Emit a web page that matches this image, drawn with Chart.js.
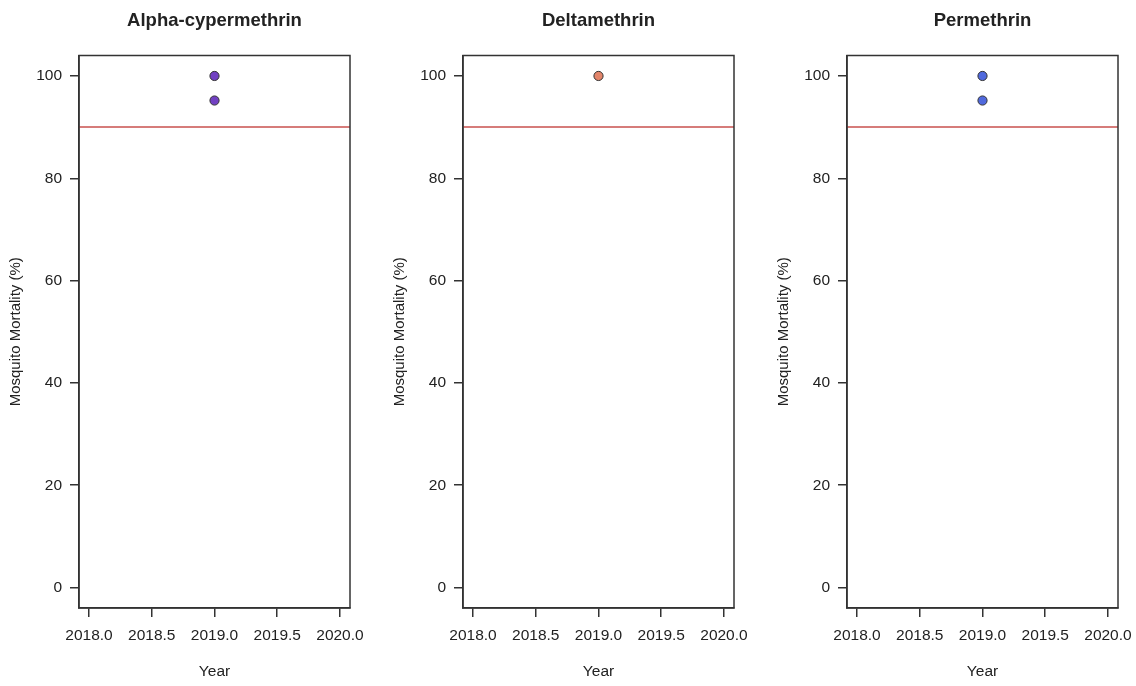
<!DOCTYPE html>
<html>
<head>
<meta charset="utf-8">
<script src="https://cdn.jsdelivr.net/npm/chart.js@4.4.1/dist/chart.umd.min.js"></script>
<style>
  html, body { margin: 0; padding: 0; background: #ffffff; }
  #wrap { position: relative; width: 1136px; height: 686px; overflow: hidden; }
  .panel { position: absolute; top: 0; width: 384px; height: 686px; }
</style>
</head>
<body>
<div id="wrap">
  <div class="panel" style="left:0px"><canvas id="c0"></canvas></div>
  <div class="panel" style="left:384px"><canvas id="c1"></canvas></div>
  <div class="panel" style="left:768px"><canvas id="c2"></canvas></div>
</div>
<script>
// Insecticide susceptibility: mosquito mortality (%) by year
const panelTitles = ['Alpha-cypermethrin', 'Deltamethrin', 'Permethrin'];

const alphaYears = [2019, 2019];
const alphaMortality = [100, 95.2];

const deltaYears = [2019];
const deltaMortality = [100];

const permYears = [2019, 2019];
const permMortality = [100, 95.2];

const xTickValues = [2018, 2018.5, 2019, 2019.5, 2020];
const yTickValues = [0, 20, 40, 60, 80, 100];
const thresholdValue = 90;

const xMin = 2017.92, xMax = 2020.08;
const yMin = -4, yMax = 104;

const pointColors = ['#7140C2', '#E3856A', '#5069DD'];
const seriesYears = [alphaYears, deltaYears, permYears];
const seriesValues = [alphaMortality, deltaMortality, permMortality];

const FONT = "'Liberation Sans', Arial, sans-serif";
const INK = '#222222';
const BASE = 15.5;

// draws the panel title and closes the plot box on all four sides
const framePlugin = {
  id: 'frame',
  afterDraw(chart, args, opts) {
    const {ctx, chartArea: a} = chart;
    ctx.save();
    ctx.strokeStyle = '#333333';
    ctx.lineWidth = 1.5;
    ctx.strokeRect(a.left, a.top, a.right - a.left, a.bottom - a.top);
    ctx.fillStyle = INK;
    ctx.font = 'bold 18.5px ' + FONT;
    ctx.textAlign = 'center';
    ctx.textBaseline = 'middle';
    ctx.fillText(opts.text, (a.left + a.right) / 2, 21);
    ctx.restore();
  }
};

function makePanel(i) {
  const pts = seriesYears[i].map((yr, k) => ({x: yr, y: seriesValues[i][k]}));
  return new Chart(document.getElementById('c' + i), {
    type: 'scatter',
    data: {
      datasets: [
        {
          type: 'line',
          data: [{x: xMin, y: thresholdValue}, {x: xMax, y: thresholdValue}],
          borderColor: '#C8504E',
          borderWidth: 1.5,
          pointRadius: 0,
          order: 2
        },
        {
          data: pts,
          backgroundColor: pointColors[i],
          borderColor: '#333333',
          borderWidth: 1,
          pointRadius: 4.6,
          order: 1
        }
      ]
    },
    plugins: [framePlugin],
    options: {
      responsive: false,
      animation: false,
      devicePixelRatio: 1,
      layout: { padding: { left: 0, right: 34, top: 55.5, bottom: 0 } },
      plugins: {
        legend: { display: false },
        tooltip: { enabled: false },
        frame: { text: panelTitles[i] }
      },
      scales: {
        x: {
          type: 'linear',
          min: xMin,
          max: xMax,
          afterBuildTicks: s => { s.ticks = xTickValues.map(v => ({value: v})); },
          afterFit: s => { s.height = 686 - 608; },
          grid: { drawOnChartArea: false, drawTicks: true, tickLength: 9, color: '#333333', lineWidth: 1.5 },
          border: { display: true, color: '#333333', width: 1.5 },
          ticks: {
            padding: 9,
            maxRotation: 0,
            autoSkip: false,
            color: INK,
            font: { family: FONT, size: BASE },
            callback: v => Number(v).toFixed(1)
          },
          title: {
            display: true,
            text: 'Year',
            color: INK,
            font: { family: FONT, size: BASE },
            padding: { top: 0, bottom: 5 }
          }
        },
        y: {
          type: 'linear',
          min: yMin,
          max: yMax,
          afterBuildTicks: s => { s.ticks = yTickValues.map(v => ({value: v})); },
          afterFit: s => { s.width = 79; },
          grid: { drawOnChartArea: false, drawTicks: true, tickLength: 9, color: '#333333', lineWidth: 1.5 },
          border: { display: true, color: '#333333', width: 1.5 },
          ticks: {
            padding: 8,
            autoSkip: false,
            color: INK,
            font: { family: FONT, size: BASE },
            callback: v => String(v)
          },
          title: {
            display: true,
            text: 'Mosquito Mortality (%)',
            color: INK,
            font: { family: FONT, size: 15 },
            padding: { top: 7, bottom: 0 }
          }
        }
      }
    }
  });
}

for (let i = 0; i < 3; i++) {
  const cv = document.getElementById('c' + i);
  cv.width = 384; cv.height = 686;
  makePanel(i);
}
</script>
</body>
</html>
